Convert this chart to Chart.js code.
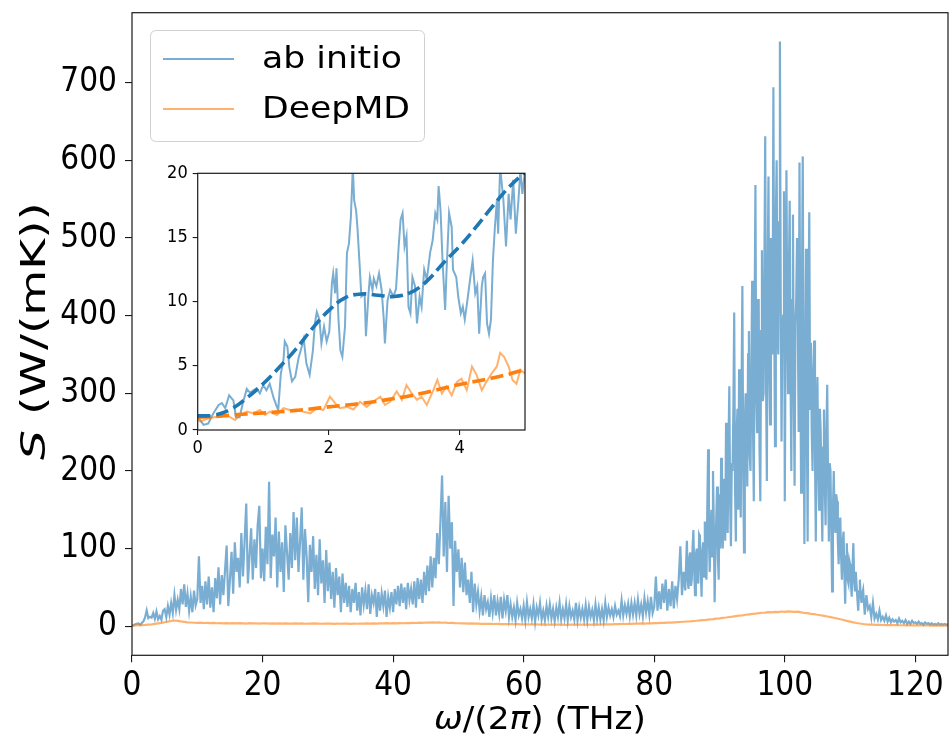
<!DOCTYPE html>
<html><head><meta charset="utf-8">
<script src="https://cdn.jsdelivr.net/npm/chart.js@4.4.0/dist/chart.umd.min.js"></script>
<style>
html,body{margin:0;padding:0;background:#fff;}
#wrap{position:relative;width:951px;height:736px;overflow:hidden;}
#main{position:absolute;left:0;top:0;}
#inset{position:absolute;left:150px;top:160px;}
</style></head><body>
<div id="wrap"><canvas id="main" width="951" height="736"></canvas><canvas id="inset" width="390" height="305"></canvas></div>
<script>
// ---------------- data ----------------
// ab initio spectrum, read in three pieces (start THz, step THz)
const abStartA = 0,   abStepA = 0.25;
const abInitioA = [
1.0,1.3,2.5,3.2, 3.5,1.6,4.2,6.2, 11.4,20.5,10.4,12.2, 11.0,16.9,9.6,19.0, 9.1,13.2,8.3,20.0,
22,12,26,15, 30,17,40,21, 34,22,48,28, 54,25,42,20, 38,18,46,27,
35,90,30,52, 22,58,28,64, 24,50,18,62, 36,76,28,66, 40,72,104,26,
60,96,42,108, 70,88,50,120, 64,110,158,55, 90,126,60,112, 75,130,155,62,
100,58,128,80, 186,62,118,90, 140,50,122,70, 108,44,130,95, 60,120,75,147,
85,140,70,110, 153,60,125,90, 31,105,70,116, 48,92,40,112, 55,85,30,98,
45,82,35,70, 24,75,40,64, 18,68,30,56, 25,52,18,48, 30,56,20,44,
14,50,28,46, 22,54,16,40, 30,48,12,44, 20,42,26,46, 12,38,24,44,
18,48,28,52, 26,55,30,50, 22,56,34,48, 28,58,24,62, 35,60,30,70,
40,78,45,90, 50,88,62,120, 80,135,194,90, 160,70,168,100, 134,26,110,70,
99,50,88,44, 82,40,60,30, 70,18,55,28, 44,20,38,14, 40,22,31,12,
36,18,40,14, 32,16,38,10, 34,20,40,12, 28,12,24,8, 30,14,22,10,
26,8,31,12, 22,10,28,6, 24,14,30,9, 20,8,26,12, 28,10,22,7,
24,12,30,9, 22,10,28,8, 26,12,20,9, 30,8,24,11, 22,9,27,8,
25,12,21,8, 28,10,24,9, 22,8,30,12, 24,14,22,12, 26,15,20,13,
33,14,27,16, 29,13,30,15, 30,14,34,16, 28,13,36,18, 32,15,38,17,
25,64,20,45, 22,55,30,60, 20,48,26,58, 23,52,35,60, 103,40,70,46
];
const abStartB = 85,  abStepB = 0.125;
const abInitioB = [
110,60,48,88,95,52,60,102,
124,70,40,92,100,62,55,118,
115,72,38,96,108,64,135,80,
60,150,228,110,70,120,150,90,
200,130,31,95,140,180,90,60,
170,100,217,140,100,190,160,110,
262,150,120,230,309,160,103,210,
200,280,404,180,109,250,280,150,
331,200,140,300,438,210,95,260,
300,240,180,350,380,220,200,330,
445,260,161,400,568,300,250,420,
420,230,161,380,484,290,300,460,
631,320,187,450,579,330,260,500,
480,350,694,400,232,520,600,380,
350,520,753,420,238,380,400,560,
161,380,587,400,300,450,548,330,
200,420,530,300,181,390,420,500,
380,250,597,350,172,430,605,300,
106,320,486,260,109,400,533,280,
365,250,200,330,368,220,109,280,
321,200,150,280,250,170,109,230,
279,180,130,250,311,190,109,210,
200,120,45,150,200,140,120,170,
161,110,80,130,140,90,60,110,
122,70,29,90,107,60,55,85,
80,55,38,75,107,60,45,70,
52,35,20,45,60,40,30,42
];
const abStartC = 112, abStepC = 0.25;
const abInitioC = [
47,15,40,22, 26,12,30,10, 16,9,20,8,
12,7,14,6, 11,5,9,6, 8,4,10,5, 7,4,8,3, 6,3,7,4,
5,3,6,3, 4,2,5,3, 4,2,4,2, 3,2,4,2, 3,2,3,2,
2
];
const dpStart = 0, dpStep = 0.5;    // DeepMD spectrum
const deepMD = [
0.8,1.1,1.3,1.5,1.7,2.1,2.4,3.0,3.6,4.3,
5.2,6.0,6.8,7.4,7.0,6.2,5.6,5.0,4.8,4.5,
4.3,4.6,4.2,4.4,4.0,4.3,3.9,4.1,3.8,4.0,3.7,3.9,3.6,4.0,3.8,3.5,3.9,3.6,3.7,3.4,
3.6,3.8,3.5,3.7,3.3,3.6,3.4,3.8,3.5,3.3,3.6,3.4,3.7,3.2,3.5,3.3,3.6,3.4,3.2,3.5,
3.3,3.5,3.1,3.4,3.2,3.5,3.3,3.0,3.4,3.2,3.5,3.3,3.6,3.4,3.7,3.5,3.8,3.6,3.9,3.7,
4.0,3.8,4.1,3.9,4.2,4.0,4.4,4.2,4.6,4.4,4.8,4.6,5.0,4.7,4.9,4.5,4.6,4.2,4.3,4.0,
3.9,3.7,3.8,3.5,3.6,3.3,3.4,3.1,3.2,3.0,3.1,2.9,3.0,2.8,2.9,2.7,2.8,2.6,2.7,2.5,
2.6,2.4,2.5,2.3,2.4,2.2,2.3,2.1,2.2,2.0,2.2,2.0,2.1,1.9,2.1,2.0,2.2,2.0,2.1,2.0,
2.2,2.1,2.3,2.2,2.4,2.3,2.6,2.5,2.8,2.7,3.0,2.9,3.2,3.1,3.4,3.3,3.6,3.5,3.8,3.7,
4.0,4.0,4.3,4.3,4.6,4.7,5.0,5.2,5.5,5.8,6.1,6.4,6.8,7.1,7.5,7.9,8.3,8.8,9.2,9.8,
10.2,10.8,11.3,11.9,12.4,13.0,13.6,14.1,14.8,15.2,15.9,16.3,16.8,17.4,17.6,18.2,17.9,18.6,18.3,19.0,
18.6,19.2,18.8,18.4,18.9,17.8,17.2,16.8,16.0,15.6,14.8,14.2,13.4,12.6,11.8,10.9,10.0,9.0,8.0,7.0,
6.0,5.0,4.2,3.5,2.9,2.5,2.2,2.0,1.8,1.7,1.6,1.5,1.5,1.4,1.4,1.3,1.3,1.2,1.2,1.1,
1.1,1.1,1.0,1.0,1.0,0.9,0.9,0.9,0.9,0.8,0.8
];
// inset: low-frequency detail (0-5 THz)
const insetAbX = [0,0.09,0.16,0.24,0.32,0.37,0.42,0.48,0.545,0.585,0.64,0.69,0.75,0.8,0.85,0.9,0.95,1.0,1.05,1.1,1.16,1.21,1.23,1.27,1.31,1.33,1.37,1.4,1.44,1.49,1.54,1.59,1.62,1.66,1.71,1.76,1.79,1.82,1.86,1.89,1.93,1.97,2.01,2.05,2.07,2.1,2.12,2.15,2.18,2.21,2.25,2.28,2.31,2.34,2.37,2.39,2.42,2.44,2.47,2.5,2.55,2.57,2.61,2.63,2.67,2.69,2.73,2.77,2.81,2.84,2.86,2.9,2.94,2.99,3.03,3.07,3.1,3.13,3.16,3.19,3.22,3.25,3.28,3.32,3.35,3.39,3.42,3.46,3.5,3.55,3.59,3.63,3.66,3.68,3.71,3.74,3.78,3.8,3.84,3.88,3.9,3.95,3.98,4.02,4.05,4.08,4.12,4.16,4.2,4.24,4.27,4.3,4.34,4.36,4.39,4.42,4.45,4.48,4.51,4.54,4.57,4.59,4.62,4.67,4.71,4.75,4.78,4.82,4.86,4.9,4.93,4.96,5.0];
const insetAbY = [1.04,0.4,0.5,1.3,1.95,2.1,1.7,2.7,2.3,1.0,1.0,2.1,3.2,2.9,3.1,3.25,2.85,3.5,3.1,3.6,2.5,1.8,1.55,4.4,5.45,6.9,6.5,4.9,3.8,4.15,5.6,6.5,7.1,5.2,4.3,6.2,8.3,9.2,8.6,6.75,8.05,6.9,7.65,11.4,12.2,10.65,12.6,8.7,6.2,5.7,8.05,13.8,14.5,16.6,20.5,17.9,17.1,15.8,13.2,10.4,10.6,7.3,10.65,11.9,10.9,11.8,11.2,12.2,10.9,8.8,6.75,10.1,10.9,10.4,11.0,14.3,16.4,16.9,14.3,15.1,9.6,9.1,11.9,11.2,8.3,10.4,9.6,12.5,11.7,13.8,14.8,16.9,16.4,19.0,17.1,13.2,9.35,12.2,16.9,15.8,12.5,11.9,10.4,9.1,9.6,8.6,10.1,11.7,13.2,10.65,11.2,7.5,11.2,11.9,12.2,8.3,7.5,8.6,13.2,15.8,17.9,15.3,20.5,17.9,14.3,18.4,16.4,19.5,15.3,17.9,20.3,18.4,20.2];
const insetDpX = [0,0.04,0.16,0.29,0.44,0.57,0.65,0.75,0.85,0.95,1.03,1.1,1.21,1.31,1.41,1.51,1.61,1.72,1.82,1.92,2.02,2.1,2.17,2.28,2.38,2.48,2.58,2.68,2.79,2.86,2.94,3.04,3.12,3.19,3.27,3.35,3.42,3.5,3.6,3.66,3.73,3.8,3.88,3.96,4.03,4.11,4.19,4.26,4.34,4.41,4.49,4.57,4.62,4.68,4.75,4.81,4.87,4.93,5.0];
const insetDpY = [0.8,0.65,0.9,1.04,1.17,0.78,1.17,1.43,1.3,1.56,1.17,1.43,1.17,1.7,1.56,1.6,1.43,1.3,1.7,1.56,2.6,2.1,1.7,1.8,1.6,2.2,1.8,2.2,2.6,1.95,2.2,3.0,2.35,3.5,2.85,2.35,2.6,1.95,3.1,3.9,2.85,3.4,2.7,3.75,4.0,3.1,4.95,4.3,3.1,3.75,4.4,4.95,6.0,5.7,4.95,3.9,3.6,4.7,4.4];
const fitStep = 0.25;
const fitAb = [1.1,1.15,1.6,2.5,3.6,4.9,6.3,7.9,9.3,10.3,10.6,10.5,10.4,10.7,11.6,13.0,14.3,15.8,17.4,18.9,20.1];
const fitDp = [1.0,1.05,1.15,1.25,1.33,1.42,1.52,1.65,1.8,1.93,2.07,2.25,2.45,2.67,2.95,3.25,3.55,3.8,4.05,4.35,4.7];
const mainXTicks = [0,20,40,60,80,100,120];
const mainYTicks = [0,100,200,300,400,500,600,700];
const insetXTicks = [0,2,4];
const insetYTicks = [0,5,10,15,20];
const seriesLabels = ['ab initio','DeepMD'];

// ---------------- styling ----------------
const FONT = "'DejaVu Sans Condensed', 'DejaVu Sans', sans-serif";
const FONT_N = "'DejaVu Sans', sans-serif";
const BLUE_A = 'rgba(31,119,180,0.6)';
const ORANGE_A = 'rgba(255,127,14,0.6)';
const BLUE = '#1f77b4', ORANGE = '#ff7f0e';

const toPts = (arr, start, step) => arr.map((v,i)=>({x:start+i*step, y:v}));
const zip = (xs, ys) => xs.map((x,i)=>({x, y:ys[i]}));
const abPoints = [].concat(toPts(abInitioA,abStartA,abStepA), toPts(abInitioB,abStartB,abStepB), toPts(abInitioC,abStartC,abStepC));

const framePlugin = {
  id:'frame',
  beforeDraw(chart, args, opts){
    if(opts.fillArea){
      const a = chart.chartArea, c = chart.ctx;
      c.save(); c.fillStyle='#fff'; c.fillRect(a.left,a.top,a.right-a.left,a.bottom-a.top); c.restore();
    }
  },
  afterDraw(chart){
    const a = chart.chartArea, c = chart.ctx;
    c.save(); c.strokeStyle='#1a1a1a'; c.lineWidth=1.2;
    c.strokeRect(a.left,a.top,a.right-a.left,a.bottom-a.top); c.restore();
  }
};

// draw mixed italic/upright segments, stretched to a target length
function drawSegments(ctx, segs, size, target, align){
  let total = 0;
  segs.forEach(s=>{ ctx.font = (s[1]?'italic ':'') + size + 'px ' + FONT_N; s.w = ctx.measureText(s[0]).width; total += s.w; });
  const sx = target ? target/total : 1;
  ctx.scale(sx,1);
  let x = align==='left' ? 0 : -total/2;
  segs.forEach(s=>{ ctx.font = (s[1]?'italic ':'') + size + 'px ' + FONT_N; ctx.fillText(s[0], x, 0); x += s.w; });
}

const titlesPlugin = {
  id:'titles',
  afterDraw(chart){
    const c = chart.ctx, a = chart.chartArea;
    c.save(); c.fillStyle='#000'; c.textBaseline='alphabetic'; c.textAlign='left';
    c.save(); c.translate((a.left+a.right)/2, 729);
    drawSegments(c, [['ω',true],['/(2',false],['π',true],[') (THz)',false]], 32, 212);
    c.restore();
    c.save(); c.translate(45, 331); c.rotate(-Math.PI/2);
    drawSegments(c, [['S',true],[' (W/(mK))',false]], 33, 258);
    c.restore();
    // legend
    c.save();
    const bx=150.5, by=30.5, bw=274, bh=111, r=6;
    c.beginPath();
    c.moveTo(bx+r,by); c.lineTo(bx+bw-r,by); c.quadraticCurveTo(bx+bw,by,bx+bw,by+r);
    c.lineTo(bx+bw,by+bh-r); c.quadraticCurveTo(bx+bw,by+bh,bx+bw-r,by+bh);
    c.lineTo(bx+r,by+bh); c.quadraticCurveTo(bx,by+bh,bx,by+bh-r);
    c.lineTo(bx,by+r); c.quadraticCurveTo(bx,by,bx+r,by); c.closePath();
    c.fillStyle='rgba(255,255,255,0.8)'; c.fill();
    c.strokeStyle='#d0d0d0'; c.lineWidth=1; c.stroke();
    const ys=[59,109];
    const widths=[140,148];
    chart.data.datasets.slice().sort((p,q)=>p.legendIndex-q.legendIndex).forEach((ds,i)=>{
      c.strokeStyle=ds.borderColor; c.lineWidth=2.2;
      c.beginPath(); c.moveTo(163,ys[i]); c.lineTo(234,ys[i]); c.stroke();
      c.save(); c.fillStyle='#000'; c.textBaseline='middle';
      c.translate(262, ys[i]+1);
      drawSegments(c, [[ds.label,false]], 31, widths[i], 'left');
      c.restore();
    });
    c.restore();
    c.restore();
  }
};

const tickGrid = (len)=>({display:true, drawOnChartArea:false, drawTicks:true, tickLength:len, color:'#1a1a1a', lineWidth:1.1});
const noPadX = s=>{s.paddingLeft=0; s.paddingRight=0;};
const noPadY = s=>{s.paddingTop=0; s.paddingBottom=0;};

new Chart(document.getElementById('main'), {
  type:'line',
  data:{ datasets:[
    {label:seriesLabels[1], legendIndex:1, data:toPts(deepMD,dpStart,dpStep), borderColor:ORANGE_A, borderWidth:2.2, pointRadius:0, tension:0, order:0},
    {label:seriesLabels[0], legendIndex:0, data:abPoints, borderColor:BLUE_A, borderWidth:2.2, pointRadius:0, tension:0, order:1}
  ]},
  options:{
    responsive:false, animation:false, devicePixelRatio:1,
    layout:{padding:{left:0,right:3,top:12.7,bottom:0}},
    plugins:{legend:{display:false}, tooltip:{enabled:false}, frame:{fillArea:false}},
    scales:{
      x:{type:'linear', min:0, max:125,
        afterBuildTicks:s=>{s.ticks=mainXTicks.map(v=>({value:v}));},
        afterFit:s=>{s.height=80.7; noPadX(s);},
        ticks:{color:'#000', font:{family:FONT,size:33}, padding:4, maxRotation:0, autoSkip:false},
        grid:tickGrid(7), border:{display:false}},
      y:{type:'linear', min:-37.4, max:790,
        afterBuildTicks:s=>{s.ticks=mainYTicks.map(v=>({value:v}));},
        afterFit:s=>{s.width=132; noPadY(s);},
        ticks:{color:'#000', font:{family:FONT,size:33}, padding:8, autoSkip:false},
        grid:tickGrid(7), border:{display:false}}
    }
  },
  plugins:[framePlugin, titlesPlugin]
});

new Chart(document.getElementById('inset'), {
  type:'line',
  data:{ datasets:[
    {label:'fitAb', data:toPts(fitAb,0,fitStep), borderColor:BLUE, borderWidth:3.6, borderDash:[13,5.5], pointRadius:0, tension:0.4, order:0},
    {label:'fitDp', data:toPts(fitDp,0,fitStep), borderColor:ORANGE, borderWidth:3.6, borderDash:[13,5.5], pointRadius:0, tension:0.4, order:1},
    {label:seriesLabels[1], data:zip(insetDpX,insetDpY), borderColor:ORANGE_A, borderWidth:2, pointRadius:0, tension:0, order:2},
    {label:seriesLabels[0], data:zip(insetAbX,insetAbY), borderColor:BLUE_A, borderWidth:2, pointRadius:0, tension:0, order:3}
  ]},
  options:{
    responsive:false, animation:false, devicePixelRatio:1,
    layout:{padding:{left:0,right:15,top:13.3,bottom:0}},
    plugins:{legend:{display:false}, tooltip:{enabled:false}, frame:{fillArea:true}},
    scales:{
      x:{type:'linear', min:0, max:5,
        afterBuildTicks:s=>{s.ticks=insetXTicks.map(v=>({value:v}));},
        afterFit:s=>{s.height=35; noPadX(s);},
        ticks:{color:'#000', font:{family:FONT,size:18}, padding:3, maxRotation:0, autoSkip:false},
        grid:tickGrid(5), border:{display:false}},
      y:{type:'linear', min:0, max:20,
        afterBuildTicks:s=>{s.ticks=insetYTicks.map(v=>({value:v}));},
        afterFit:s=>{s.width=47.7; noPadY(s);},
        ticks:{color:'#000', font:{family:FONT,size:18}, padding:5, autoSkip:false},
        grid:tickGrid(5), border:{display:false}}
    }
  },
  plugins:[framePlugin]
});
</script>
</body></html>
